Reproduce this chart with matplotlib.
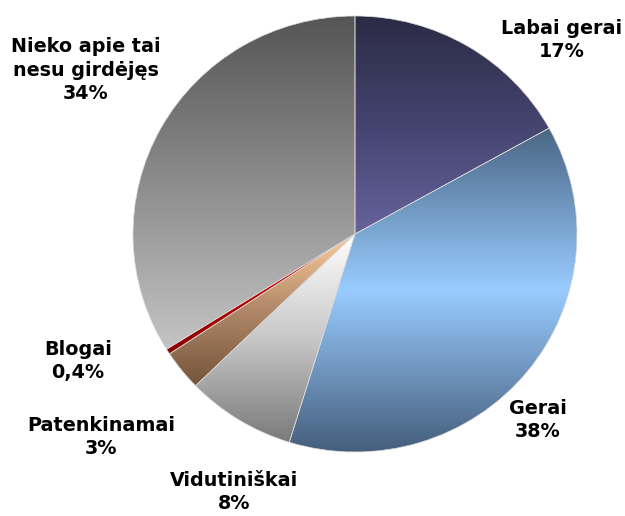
import numpy as np
import matplotlib
matplotlib.use("Agg")
import matplotlib.pyplot as plt
from matplotlib.colors import LinearSegmentedColormap

# data
labels = ["Labai gerai", "Gerai", "Vidutiniškai", "Patenkinamai", "Blogai",
          "Nieko apie tai\nnesu girdėjęs"]
values = [17, 38, 8, 3, 0.4, 34]
pct_text = ["17%", "38%", "8%", "3%", "0,4%", "34%"]

# vertical gradients per slice (top -> bottom)
gradients = [
    ["#2b2b45", "#454470", "#66639c"],
    ["#4a6685", "#99ccff", "#455e7c"],
    ["#ffffff", "#c8c8c8", "#7a7a7a"],
    ["#ffcc99", "#b08868", "#74543a"],
    ["#ff1010", "#c00000", "#8a0000"],
    ["#555555", "#8c8c8c", "#c4c4c4"],
]

# label centres in pixels (x, y from top)
label_px = [(562, 40), (538, 420), (234, 492), (101, 437), (78, 361), (86, 70)]

W, H = 625, 516
CX, CY, RX, RY = 355, 234, 222, 218


def px2data(x, y):
    return (x - CX) / RX, (CY - y) / RY


fig = plt.figure(figsize=(W / 100, H / 100), dpi=100)
ax = fig.add_axes([0, 0, 1, 1])

wedges, _ = ax.pie(values, startangle=90, counterclock=False, radius=1,
                   wedgeprops=dict(edgecolor="#d8d8d8", linewidth=0.5))

ramp = np.linspace(0, 1, 256).reshape(-1, 1)
for w, stops in zip(wedges, gradients):
    w.set_facecolor("none")
    w.set_zorder(3)
    ext = w.get_path().get_extents()
    cmap = LinearSegmentedColormap.from_list("g", stops)
    im = ax.imshow(ramp, cmap=cmap, extent=(ext.x0, ext.x1, ext.y0, ext.y1),
                   origin="upper", aspect="auto", interpolation="bilinear",
                   zorder=2)
    im.set_clip_path(w)

for lab, pct, (x, y) in zip(labels, pct_text, label_px):
    dx, dy = px2data(x, y)
    ax.text(dx, dy, f"{lab}\n{pct}", ha="center", va="center",
            fontsize=13.8, fontweight="bold", linespacing=1.32,
            family="DejaVu Sans", zorder=5)

ax.set_aspect("auto")
ax.set_xlim(-CX / RX, (W - CX) / RX)
ax.set_ylim((CY - H) / RY, CY / RY)
ax.set_axis_off()

fig.savefig("out.png", dpi=100, facecolor="white")
